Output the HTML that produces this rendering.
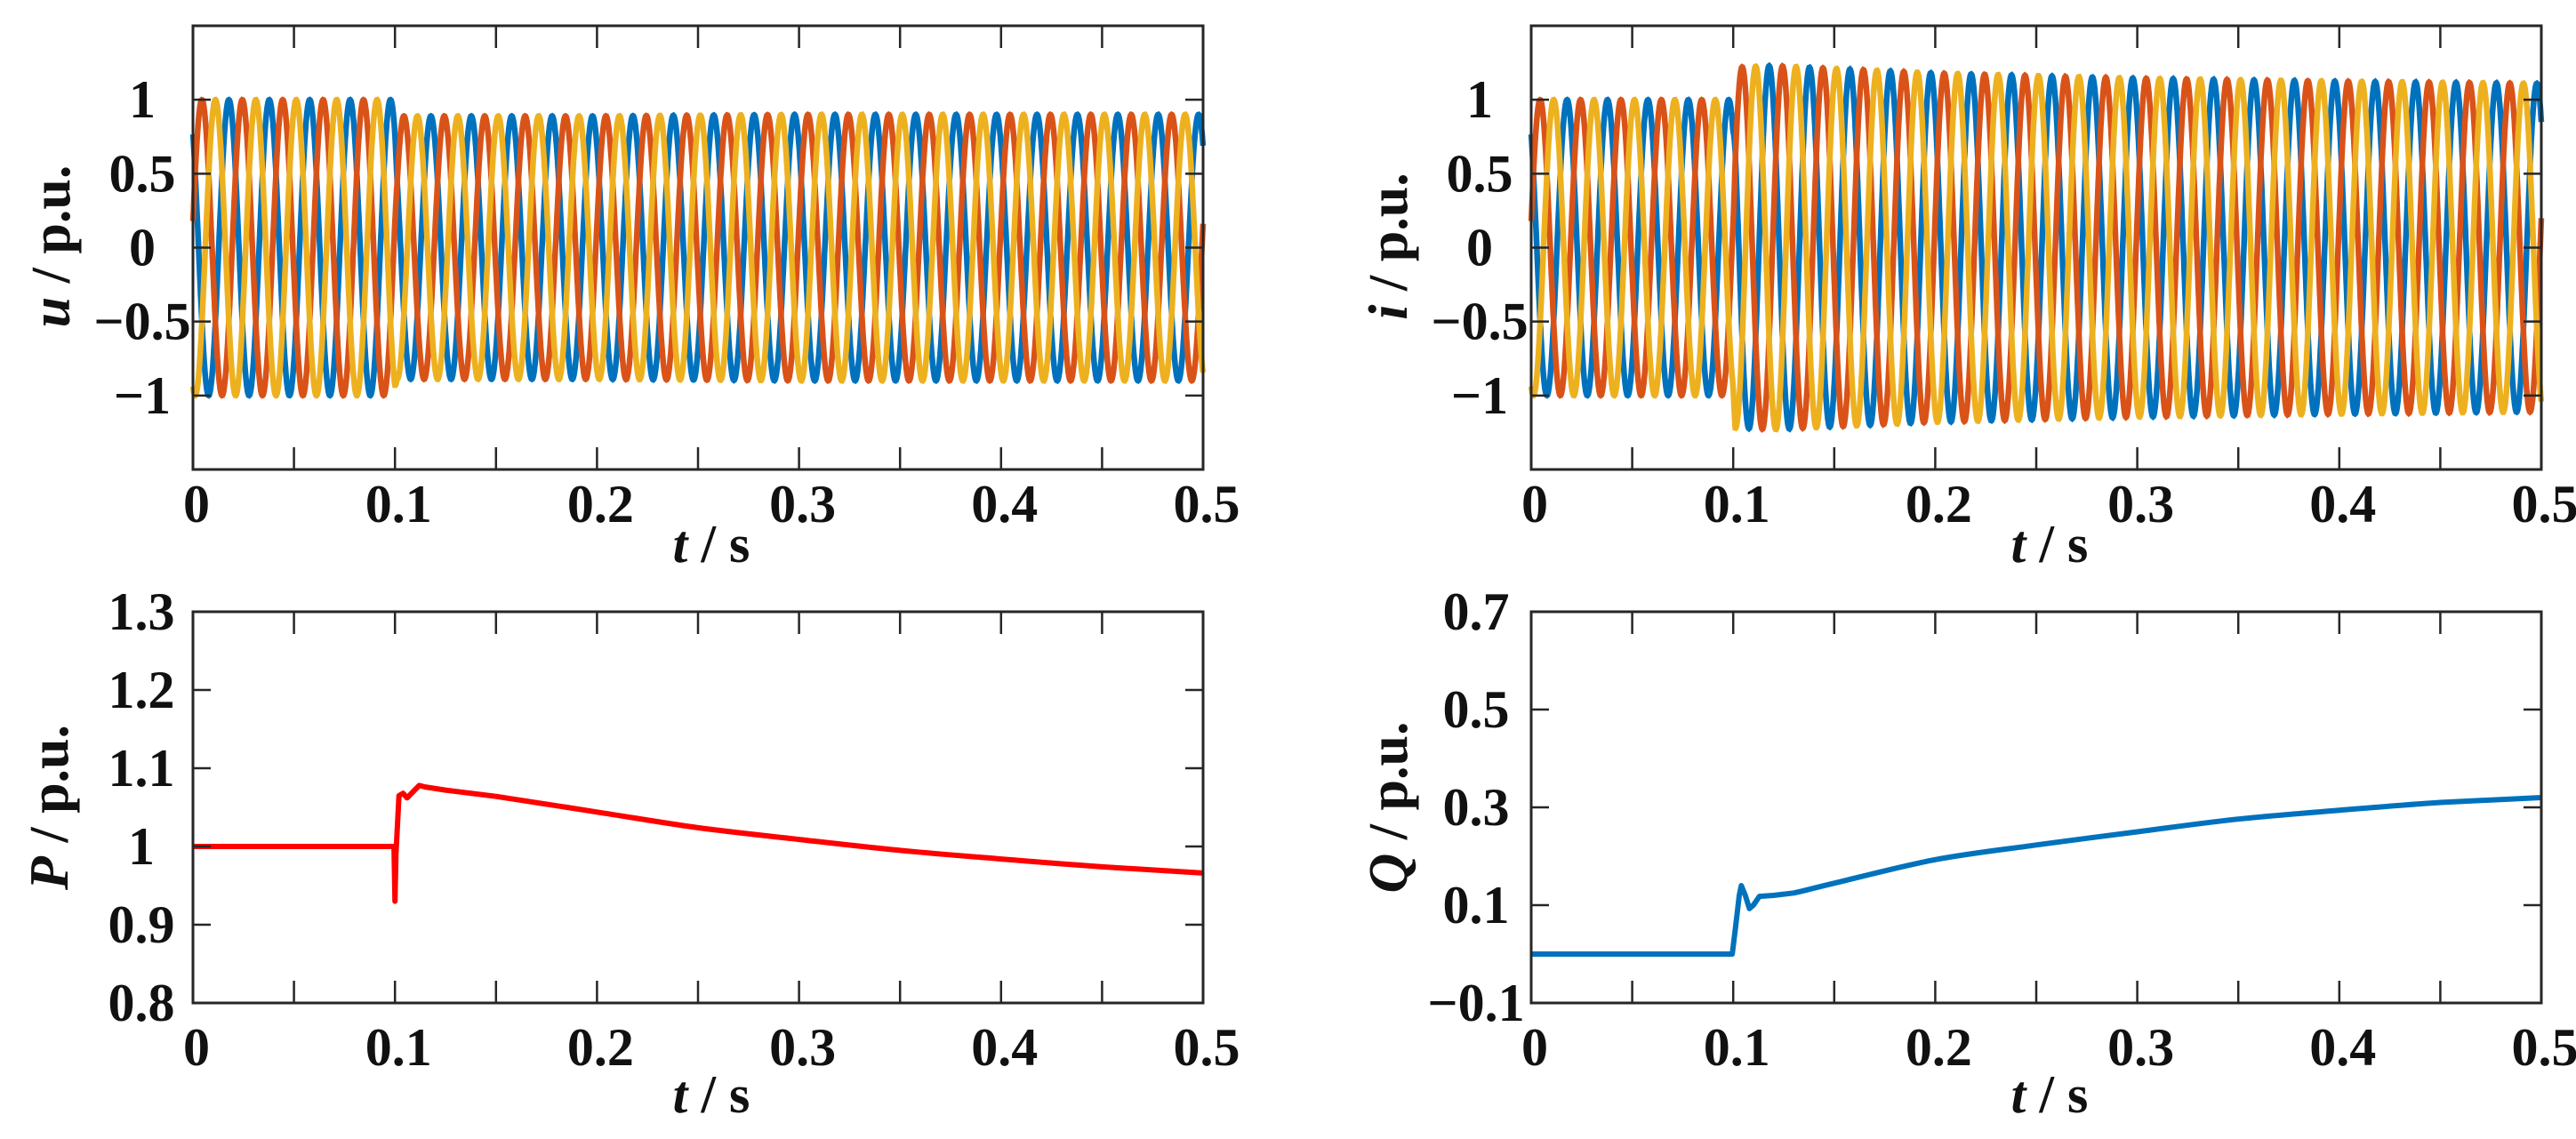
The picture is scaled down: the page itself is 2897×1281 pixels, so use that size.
<!DOCTYPE html>
<html><head><meta charset="utf-8"><style>
html,body{margin:0;padding:0;background:#fff;}
svg{display:block;font-family:"Liberation Serif",serif;font-weight:bold;}
</style></head><body>
<svg id="fig" width="2897" height="1281" viewBox="0 0 2897 1281" xmlns="http://www.w3.org/2000/svg"></svg>
<script>
// ---- data ----
const xTicks = [0, 0.1, 0.2, 0.3, 0.4, 0.5];
const xMinor = [0.05, 0.15, 0.25, 0.35, 0.45];
const uTicks = [-1, -0.5, 0, 0.5, 1];
const iTicks = [-1, -0.5, 0, 0.5, 1];
const pTicks = [0.8, 0.9, 1, 1.1, 1.2, 1.3];
const qTicks = [-0.1, 0.1, 0.3, 0.5, 0.7];
const uTickLabels = ["\u22121", "\u22120.5", "0", "0.5", "1"];
const iTickLabels = ["\u22121", "\u22120.5", "0", "0.5", "1"];
const pTickLabels = ["0.8", "0.9", "1", "1.1", "1.2", "1.3"];
const qTickLabels = ["\u22120.1", "0.1", "0.3", "0.5", "0.7"];
// amplitude envelopes of three-phase waveforms
const uEnvT = [0, 0.0999, 0.101, 0.2, 0.3, 0.4, 0.5];
const uEnvA = [1, 1, 0.89, 0.89, 0.9, 0.9, 0.9];
const iEnvT = [0, 0.0999, 0.101, 0.12, 0.2, 0.3, 0.4, 0.5];
const iEnvA = [1, 1, 1.22, 1.23, 1.18, 1.145, 1.125, 1.11];
const phaseOffsets = [2.27, 0.18, 4.36]; // blue, orange, yellow
const freqHz = 50;
// power traces
const pT = [0, 0.0995, 0.1, 0.1005, 0.102, 0.104, 0.106, 0.109, 0.112, 0.115, 0.125, 0.15, 0.2, 0.25, 0.3, 0.35, 0.4, 0.45, 0.5];
const pV = [1, 1, 0.93, 0.99, 1.065, 1.068, 1.062, 1.07, 1.078, 1.076, 1.072, 1.064, 1.044, 1.024, 1.009, 0.995, 0.984, 0.974, 0.966];
const qT = [0, 0.0995, 0.101, 0.103, 0.104, 0.106, 0.108, 0.11, 0.113, 0.12, 0.13, 0.15, 0.2, 0.25, 0.3, 0.35, 0.4, 0.45, 0.5];
const qV = [0, 0, 0.05, 0.12, 0.14, 0.12, 0.093, 0.1, 0.118, 0.12, 0.125, 0.145, 0.193, 0.223, 0.25, 0.276, 0.294, 0.31, 0.32];

const NS = "http://www.w3.org/2000/svg";
const svg = document.getElementById('fig');
function mk(tag, attrs, parent){ const e=document.createElementNS(NS,tag); for(const k in attrs) e.setAttribute(k,attrs[k]); (parent||svg).appendChild(e); return e; }
function interp(T,A,t){ if(t<=T[0])return A[0]; for(let k=1;k<T.length;k++){ if(t<=T[k]){const f=(t-T[k-1])/(T[k]-T[k-1]); return A[k-1]+f*(A[k]-A[k-1]);}} return A[A.length-1]; }

function axes(cfg){
  const g = mk('g',{});
  
  
  const X = t => cfg.x0 + (t-0)/(0.5-0)*(cfg.x1-cfg.x0);
  const Y = v => cfg.y1 - (v-cfg.ymin)/(cfg.ymax-cfg.ymin)*(cfg.y1-cfg.y0);
  cfg.draw(g, X, Y);
  const frame = mk('rect',{x:cfg.x0,y:cfg.y0,width:cfg.x1-cfg.x0,height:cfg.y1-cfg.y0,fill:'none',stroke:'#262626','stroke-width':3},g);
  
  
  const tl=25;
  xTicks.concat(xMinor).forEach(t=>{
    mk('line',{x1:X(t),x2:X(t),y1:cfg.y1,y2:cfg.y1-tl,stroke:'#262626','stroke-width':2.5},g);
    mk('line',{x1:X(t),x2:X(t),y1:cfg.y0,y2:cfg.y0+tl,stroke:'#262626','stroke-width':2.5},g);
  });
  xTicks.forEach(t=>{
    const tx = mk('text',{x:X(t)+4,y:cfg.xlabY,'text-anchor':'middle','font-size':60,fill:'#111'},g);
    tx.textContent = String(t);
    
    
  });
  cfg.yTicks.forEach((v,k)=>{
    mk('line',{x1:cfg.x0,x2:cfg.x0+tl*0.8,y1:Y(v),y2:Y(v),stroke:'#262626','stroke-width':2.5},g);
    mk('line',{x1:cfg.x1,x2:cfg.x1-tl*0.8,y1:Y(v),y2:Y(v),stroke:'#262626','stroke-width':2.5},g);
    const tx = mk('text',{x:cfg.x0-cfg.ylabOff,y:Y(v)+20,'text-anchor':'middle','font-size':60,fill:'#111'},g);
    tx.textContent = cfg.yTickLabels[k];
    
    
  });
  const cx=(cfg.x0+cfg.x1)/2+15;
  const xl = mk('text',{x:cx,y:cfg.xtitleY,'text-anchor':'middle','font-size':60,fill:'#111'},g);
  xl.innerHTML = '<tspan font-style="italic">t</tspan> / s';
  
  
  const yl = mk('text',{x:0,y:0,'text-anchor':'middle','font-size':62,fill:'#111',transform:`translate(${cfg.ytX},${cfg.ytY}) rotate(-90)`},g);
  yl.innerHTML = `<tspan font-style="italic">${cfg.ysym}</tspan> / p.u.`;
  
  
}

const colors = ['#0072BD','#D95319','#EDB120'];
function threePhase(envT, envA, label){
  return (g,X,Y)=>{
    phaseOffsets.forEach((ph,k)=>{
      let d='';
      for(let n=0;n<=2500;n++){
        const t=n*0.0002;
        const v=interp(envT,envA,t)*Math.sin(2*Math.PI*freqHz*t+ph);
        d+=(n?'L':'M')+X(t).toFixed(1)+','+Y(v).toFixed(1);
      }
      const p=mk('path',{d:d,fill:'none',stroke:colors[k],'stroke-width':6.5},g);
      
      
    });
  };
}
function trace(T,V,color,label){
  return (g,X,Y)=>{
    const P=T.map((t,k)=>[X(t),Y(V[k])]);
    let d='M'+P[0][0].toFixed(1)+','+P[0][1].toFixed(1);
    for(let k=0;k<P.length-1;k++){
      const p1=P[k],p2=P[k+1];
      if(k>=1 && k+2<P.length && T[k-1]>=0.12){
        const p0=P[k-1],p3=P[k+2];
        const c1=[p1[0]+(p2[0]-p0[0])/6,p1[1]+(p2[1]-p0[1])/6];
        const c2=[p2[0]-(p3[0]-p1[0])/6,p2[1]-(p3[1]-p1[1])/6];
        d+=`C${c1[0].toFixed(1)},${c1[1].toFixed(1)} ${c2[0].toFixed(1)},${c2[1].toFixed(1)} ${p2[0].toFixed(1)},${p2[1].toFixed(1)}`;
      } else {
        d+=`L${p2[0].toFixed(1)},${p2[1].toFixed(1)}`;
      }
    }
    const p=mk('path',{d:d,fill:'none',stroke:color,'stroke-width':6,'stroke-linejoin':'round'},g);
    
    
  };
}

axes({name:'voltage-plot',x0:217,x1:1353,y0:29,y1:528,ymin:-1.5,ymax:1.5,yTicks:uTicks,yTickLabels:uTickLabels,ylabOff:57,xlabY:587,xtitleY:632,ytX:78,ytY:277,ysym:'u',draw:threePhase(uEnvT,uEnvA,'voltage')});
axes({name:'current-plot',x0:1722,x1:2858,y0:29,y1:528,ymin:-1.5,ymax:1.5,yTicks:iTicks,yTickLabels:iTickLabels,ylabOff:58,xlabY:587,xtitleY:632,ytX:1582,ytY:277,ysym:'i',draw:threePhase(iEnvT,iEnvA,'current')});
axes({name:'active-power-plot',x0:217,x1:1353,y0:688,y1:1128,ymin:0.8,ymax:1.3,yTicks:pTicks,yTickLabels:pTickLabels,ylabOff:58,xlabY:1198,xtitleY:1251,ytX:76,ytY:908,ysym:'P',draw:trace(pT,pV,'#FF0000','active-power-line')});
axes({name:'reactive-power-plot',x0:1722,x1:2858,y0:688,y1:1128,ymin:-0.1,ymax:0.7,yTicks:qTicks,yTickLabels:qTickLabels,ylabOff:62,xlabY:1198,xtitleY:1251,ytX:1582,ytY:908,ysym:'Q',draw:trace(qT,qV,'#0072BD','reactive-power-line')});
</script>
</body></html>
